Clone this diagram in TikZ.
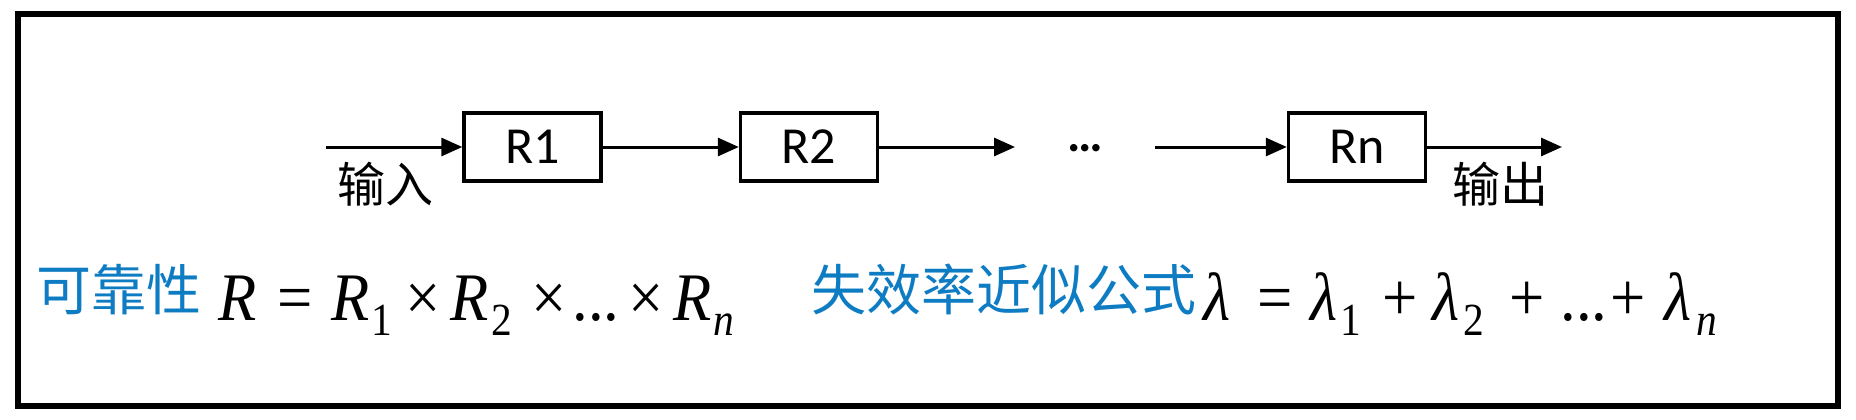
\documentclass[tikz,border=0pt]{standalone}
\usepackage{fontspec}
\usepackage{graphicx}
\setmainfont{Carlito}
\newfontfamily\cjk{Noto Sans CJK SC}
\newfontfamily\tms{Liberation Serif}
\usetikzlibrary{arrows.meta}
\definecolor{titleblue}{RGB}{14,124,194}
\newcommand{\putat}[2]{\rlap{\hspace{#1pt}\scalebox{0.92}[1]{#2}}}
\newcommand{\subat}[2]{\rlap{\hspace{#1pt}\raisebox{-15pt}{\scalebox{0.9}[1]{\fontsize{46}{46}\selectfont #2}}}}
\begin{document}
\begin{tikzpicture}[x=1pt,y=-1pt,
  blk/.style={draw, line width=3.4pt, minimum width=137pt, minimum height=68pt, inner sep=0pt, font=\fontsize{52}{52}\selectfont},
  lbl/.style={inner sep=0pt, font=\cjk\fontsize{48}{48}\selectfont},
  ttl/.style={inner sep=0pt, anchor=base west, text=titleblue, font=\cjk\fontsize{55}{55}\selectfont},
  frm/.style={inner sep=0pt, anchor=base west, font=\tms\fontsize{68}{68}\selectfont},
  conn/.style={line width=3pt, -{Triangle[length=21pt,width=18pt]}}]
\useasboundingbox (0,0) rectangle (1856,420);
\draw[line width=5.5pt] (18,14) rectangle (1838,406);
\node[blk] (r1) at (532.5,147) {R1};
\node[blk] (r2) at (809,147) {R2};
\node[anchor=base, inner ysep=0pt, inner xsep=52pt, font=\bfseries\fontsize{50}{50}\selectfont] (dots) at (1085,151) {…};
\node[blk] (rn) at (1357,147) {Rn};
\coordinate (in) at (326,147);
\coordinate (out) at (1562,147);
\draw[conn] (in) -- (r1.west);
\draw[conn] (r1.east) -- (r2.west);
\draw[conn] (r2.east) -- (r2.east -| dots.west);
\draw[conn] (rn.west -| dots.east) -- (rn.west);
\draw[conn] (rn.east) -- (out);
\node[lbl] (inl) at (385,184) {输入};
\node[lbl] (outl) at (1500,184) {输出};
\node[ttl] (t1) at (36,310) {可靠性};
\node[frm] (f1) at (218,320) {\putat{0}{\textit{R}}\putat{59}{=}\putat{113}{\textit{R}}\subat{153}{1}\putat{187}{×}\putat{232}{\textit{R}}\subat{273}{2}\putat{313}{×}\putat{354}{...}\putat{410}{×}\putat{455}{\textit{R}}\subat{495}{\textit{n}}};
\node[ttl] (t2) at (811,310) {失效率近似公式};
\node[frm] (f2) at (1203,320) {\putat{0}{\textit{λ}}\putat{54}{=}\putat{107}{\textit{λ}}\subat{137}{1}\putat{179}{+}\putat{229}{\textit{λ}}\subat{260}{2}\putat{306}{+}\putat{357}{...}\putat{407}{+}\putat{461}{\textit{λ}}\subat{493}{\textit{n}}};
\end{tikzpicture}
\end{document}
